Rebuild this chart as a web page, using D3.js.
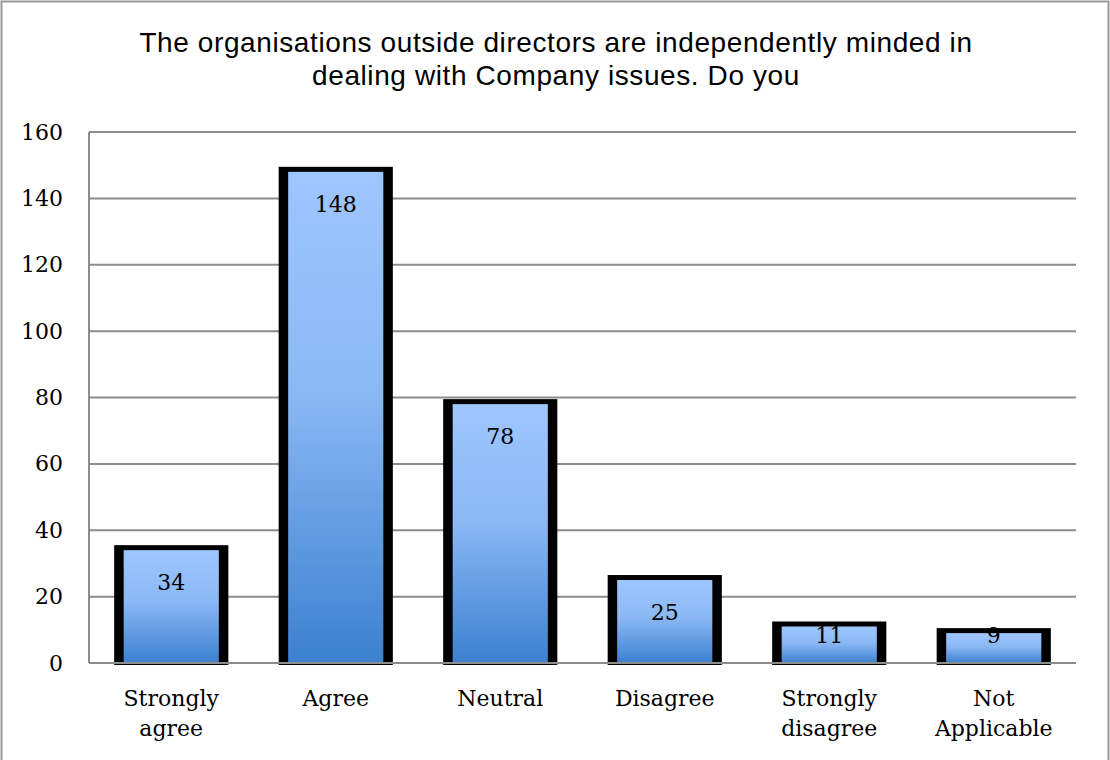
<!DOCTYPE html>
<html>
<head>
<meta charset="utf-8">
<script src="https://cdn.jsdelivr.net/npm/d3@7"></script>
<style>
  html, body { margin: 0; padding: 0; background: #fff; }
  svg { display: block; }
</style>
</head>
<body>
<div id="chart"></div>
<script>
// Survey responses
const categories = [["Strongly", "agree"], ["Agree"], ["Neutral"], ["Disagree"], ["Strongly", "disagree"], ["Not", "Applicable"]];
const values = [34, 148, 78, 25, 11, 9];
const yTicks = [0, 20, 40, 60, 80, 100, 120, 140, 160];
const titleLines = [
  "The organisations outside directors are independently minded in",
  "dealing with Company issues. Do you"
];

const W = 1110, H = 760;
const margin = { left: 89, right: 34, top: 132, bottom: 97 };
const serif = "'DejaVu Serif', serif";

const svg = d3.select("#chart").append("svg")
  .attr("width", W).attr("height", H);

// bar gradient: light blue at top to deeper blue at bottom
const defs = svg.append("defs");
const grad = defs.append("linearGradient")
  .attr("id", "barFill").attr("x1", 0).attr("y1", 0).attr("x2", 0).attr("y2", 1);
grad.append("stop").attr("offset", "0%").attr("stop-color", "#9ec6ff");
grad.append("stop").attr("offset", "45%").attr("stop-color", "#8bb8f4");
grad.append("stop").attr("offset", "100%").attr("stop-color", "#3c80cf");

// outer frame
svg.append("rect")
  .attr("x", 1.5).attr("y", 1.5).attr("width", W - 3).attr("height", H + 20)
  .attr("fill", "#fff").attr("stroke", "#9a9a9a").attr("stroke-width", 2);

// title
svg.append("text")
  .attr("x", 556).attr("y", 52)
  .attr("text-anchor", "middle")
  .attr("font-family", "'Liberation Sans', Arial, sans-serif")
  .attr("font-size", 28).attr("letter-spacing", 0.6).attr("fill", "#000")
  .selectAll("tspan").data(titleLines).join("tspan")
  .attr("x", 556).attr("dy", (d, i) => i === 0 ? 0 : 33)
  .text(d => d);

const x = d3.scaleBand()
  .domain(categories.map((c, i) => i))
  .range([margin.left, W - margin.right])
  .paddingInner(0.306).paddingOuter(0.153);

const y = d3.scaleLinear()
  .domain([0, 160])
  .range([H - margin.bottom, margin.top]);

// gridlines
svg.append("g")
  .selectAll("line").data(yTicks).join("line")
  .attr("x1", margin.left).attr("x2", W - margin.right)
  .attr("y1", d => y(d)).attr("y2", d => y(d))
  .attr("stroke", "#8c8c8c").attr("stroke-width", 2);

// y axis line
svg.append("line")
  .attr("x1", margin.left).attr("x2", margin.left)
  .attr("y1", y(160)).attr("y2", y(0))
  .attr("stroke", "#8c8c8c").attr("stroke-width", 2);

// y tick labels
const yAxis = d3.axisLeft(y).tickValues(yTicks).tickSize(0).tickPadding(26);
const yg = svg.append("g").attr("transform", `translate(${margin.left},0)`).call(yAxis);
yg.select(".domain").remove();
yg.selectAll("text")
  .attr("font-family", serif).attr("font-size", 22).attr("fill", "#000");

// bars: black frame with gradient fill
const bars = svg.append("g").selectAll("g").data(values).join("g");
bars.append("rect")
  .attr("x", (d, i) => x(i))
  .attr("y", d => y(d) - 5)
  .attr("width", x.bandwidth())
  .attr("height", d => y(0) - y(d) + 7)
  .attr("fill", "#000");
bars.append("rect")
  .attr("x", (d, i) => x(i) + 9.5)
  .attr("y", d => y(d))
  .attr("width", x.bandwidth() - 19)
  .attr("height", d => y(0) - y(d))
  .attr("fill", "url(#barFill)");

// baseline over the bars
svg.append("line")
  .attr("x1", margin.left).attr("x2", W - margin.right)
  .attr("y1", y(0)).attr("y2", y(0))
  .attr("stroke", "#8c8c8c").attr("stroke-width", 2);

// value labels
bars.append("text")
  .attr("x", (d, i) => x(i) + x.bandwidth() / 2)
  .attr("y", d => Math.min(y(d) + 40, y(0) - 20))
  .attr("text-anchor", "middle")
  .attr("font-family", serif).attr("font-size", 22).attr("fill", "#000")
  .text(d => d);

// category labels
const xl = svg.append("g").selectAll("text").data(categories).join("text")
  .attr("x", (d, i) => x(i) + x.bandwidth() / 2)
  .attr("y", 706)
  .attr("text-anchor", "middle")
  .attr("font-family", serif).attr("font-size", 22).attr("fill", "#000");
xl.selectAll("tspan").data(d => d).join("tspan")
  .attr("x", function () { return d3.select(this.parentNode).attr("x"); })
  .attr("dy", (d, i) => i === 0 ? 0 : 30)
  .text(d => d);
</script>
</body>
</html>
